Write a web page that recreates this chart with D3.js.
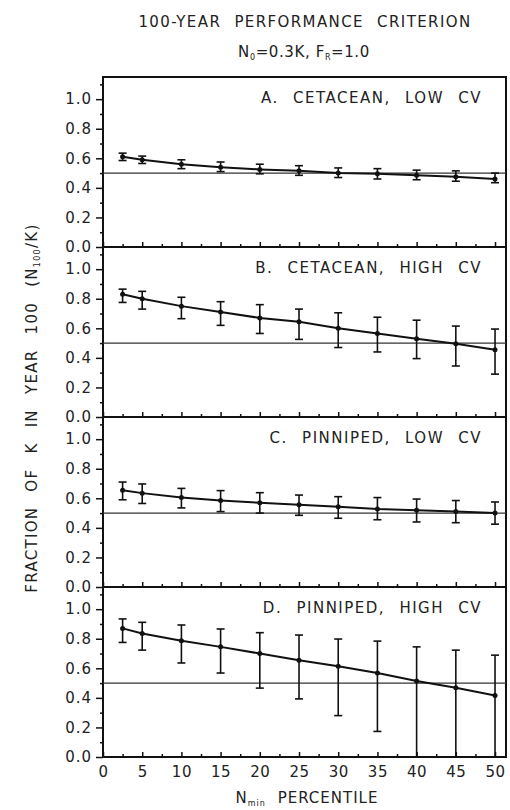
<!DOCTYPE html>
<html><head><meta charset="utf-8">
<script src="https://cdn.jsdelivr.net/npm/d3@7"></script>
<style>
body{margin:0;background:#fff;}
svg text{font-family:"DejaVu Sans",sans-serif;fill:#222;}
</style></head>
<body><svg id="chart" width="510" height="810"></svg>
<script>
const percentiles = [2.5,5,10,15,20,25,30,35,40,45,50];
const panelLabels = ["A. CETACEAN, LOW CV","B. CETACEAN, HIGH CV","C. PINNIPED, LOW CV","D. PINNIPED, HIGH CV"];
const meanA = [0.61,0.59,0.56,0.54,0.525,0.515,0.50,0.495,0.485,0.475,0.46];
const lowA  = [0.585,0.565,0.53,0.51,0.495,0.485,0.47,0.46,0.455,0.445,0.435];
const highA = [0.635,0.615,0.59,0.575,0.56,0.55,0.535,0.53,0.52,0.515,0.50];
const meanB = [0.83,0.80,0.75,0.71,0.67,0.645,0.60,0.565,0.53,0.495,0.455];
const lowB  = [0.775,0.73,0.665,0.62,0.565,0.525,0.47,0.44,0.395,0.345,0.29];
const highB = [0.865,0.85,0.81,0.78,0.76,0.73,0.705,0.675,0.655,0.615,0.595];
const meanC = [0.655,0.635,0.605,0.585,0.57,0.557,0.543,0.528,0.52,0.51,0.50];
const lowC  = [0.59,0.565,0.535,0.51,0.50,0.485,0.465,0.455,0.44,0.435,0.425];
const highC = [0.71,0.697,0.667,0.652,0.638,0.622,0.611,0.605,0.595,0.585,0.575];
const meanD = [0.87,0.836,0.786,0.745,0.70,0.655,0.614,0.568,0.514,0.468,0.416];
const lowD  = [0.775,0.723,0.636,0.568,0.466,0.393,0.28,0.173,0.0,0.0,0.0];
const highD = [0.934,0.911,0.893,0.866,0.841,0.825,0.798,0.784,0.745,0.723,0.689];
const xTicks = [0,5,10,15,20,25,30,35,40,45,50];
const yTicks = [0,0.2,0.4,0.6,0.8,1.0];
const refLevel = 0.5;

const panels = [
  {label:panelLabels[0], mean:meanA, low:lowA, high:highA},
  {label:panelLabels[1], mean:meanB, low:lowB, high:highB},
  {label:panelLabels[2], mean:meanC, low:lowC, high:highC},
  {label:panelLabels[3], mean:meanD, low:lowD, high:highD}
];

const svg = d3.select("#chart");
const left = 103, right = 506, top0 = 77, ph = 170;
const x = d3.scaleLinear().domain([0,51.4]).range([left,right]);

// Title
svg.append("text").attr("x",305).attr("y",27).attr("text-anchor","middle")
  .attr("font-size",15).attr("letter-spacing",1.4).attr("word-spacing",7)
  .text("100-YEAR PERFORMANCE CRITERION");
const t2 = svg.append("text").attr("x",304).attr("y",57).attr("text-anchor","middle")
  .attr("font-size",15).attr("letter-spacing",0.6);
t2.append("tspan").text("N");
t2.append("tspan").attr("font-size",8).attr("dy",3).text("0");
t2.append("tspan").attr("dy",-3).text("=0.3K,  F");
t2.append("tspan").attr("font-size",8).attr("dy",3).text("R");
t2.append("tspan").attr("dy",-3).text("=1.0");

panels.forEach((p,i)=>{
  const top = top0 + i*ph;
  const y = d3.scaleLinear().domain([0,1.15]).range([top+ph, top]);
  const g = svg.append("g");
  // frame
  g.append("rect").attr("x",left).attr("y",top).attr("width",right-left).attr("height",ph)
    .attr("fill","none").attr("stroke","#111").attr("stroke-width",2);
  // y axis ticks
  const yAxis = d3.axisLeft(y).tickValues(yTicks).tickFormat(d3.format(".1f")).tickSize(7).tickPadding(4);
  const ya = g.append("g").attr("transform",`translate(${left},0)`).call(yAxis);
  ya.select(".domain").remove();
  ya.selectAll("line").attr("stroke","#111").attr("stroke-width",1.5);
  ya.selectAll("text").attr("font-size",15).attr("letter-spacing",1).style("font-family","DejaVu Sans").attr("fill","#222");
  const yMinor = d3.axisLeft(y).tickValues([0.1,0.3,0.5,0.7,0.9,1.1]).tickSize(3).tickFormat("");
  const ym = g.append("g").attr("transform",`translate(${left},0)`).call(yMinor);
  ym.select(".domain").remove();
  ym.selectAll("line").attr("stroke","#111").attr("stroke-width",1.5);
  // x ticks pointing inward (up)
  const xMajor = d3.axisTop(x).tickValues(xTicks).tickSize(5).tickFormat("");
  const xa = g.append("g").attr("transform",`translate(0,${top+ph})`).call(xMajor);
  xa.select(".domain").remove();
  xa.selectAll("line").attr("stroke","#111").attr("stroke-width",1.5);
  const xMinor = d3.axisTop(x).tickValues(xTicks.slice(0,-1).map(d=>d+2.5)).tickSize(3).tickFormat("");
  const xm = g.append("g").attr("transform",`translate(0,${top+ph})`).call(xMinor);
  xm.select(".domain").remove();
  xm.selectAll("line").attr("stroke","#111").attr("stroke-width",1.5);
  // reference line at 0.5
  g.append("line").attr("x1",left).attr("x2",right).attr("y1",y(refLevel)).attr("y2",y(refLevel))
    .attr("stroke","#333").attr("stroke-width",1.2);
  // error bars
  const pts = percentiles.map((v,k)=>({x:v,m:p.mean[k],lo:p.low[k],hi:p.high[k]}));
  const eb = g.append("g").attr("stroke","#111").attr("stroke-width",1.6);
  pts.forEach(d=>{
    eb.append("line").attr("x1",x(d.x)).attr("x2",x(d.x)).attr("y1",y(d.lo)).attr("y2",y(d.hi));
    eb.append("line").attr("x1",x(d.x)-4).attr("x2",x(d.x)+4).attr("y1",y(d.lo)).attr("y2",y(d.lo));
    eb.append("line").attr("x1",x(d.x)-4).attr("x2",x(d.x)+4).attr("y1",y(d.hi)).attr("y2",y(d.hi));
  });
  // line
  g.append("path").datum(pts).attr("fill","none").attr("stroke","#111").attr("stroke-width",2)
    .attr("d",d3.line().x(d=>x(d.x)).y(d=>y(d.m)));
  g.selectAll("circle.pt").data(pts).enter().append("circle").attr("class","pt")
    .attr("cx",d=>x(d.x)).attr("cy",d=>y(d.m)).attr("r",2.5).attr("fill","#111");
  // label
  g.append("text").attr("x",482).attr("y",top+26).attr("text-anchor","end")
    .attr("font-size",15).attr("letter-spacing",1.5).attr("word-spacing",8).text(p.label);
  // x tick labels on last panel
  if(i===panels.length-1){
    const xl = d3.axisBottom(x).tickValues(xTicks).tickSize(0).tickPadding(9);
    const xg = g.append("g").attr("transform",`translate(0,${top+ph})`).call(xl);
    xg.select(".domain").remove();
    xg.selectAll("text").attr("font-size",15).attr("letter-spacing",0.5).style("font-family","DejaVu Sans").attr("fill","#222");
  }
});

// x axis label
const xlab = svg.append("text").attr("x",307).attr("y",803).attr("text-anchor","middle")
  .attr("font-size",15).attr("letter-spacing",1).attr("word-spacing",6);
xlab.append("tspan").text("N");
xlab.append("tspan").attr("font-size",8).attr("dy",3).text("min");
xlab.append("tspan").attr("dy",-3).text(" PERCENTILE");

// y axis label
const ylab = svg.append("text").attr("transform","translate(37,408) rotate(-90)").attr("text-anchor","middle")
  .attr("font-size",15).attr("letter-spacing",1.3).attr("word-spacing",9);
ylab.append("tspan").text("FRACTION OF K IN YEAR 100 (N");
ylab.append("tspan").attr("font-size",8).attr("dy",3).text("100");
ylab.append("tspan").attr("dy",-3).text("/K)");
</script></body></html>
